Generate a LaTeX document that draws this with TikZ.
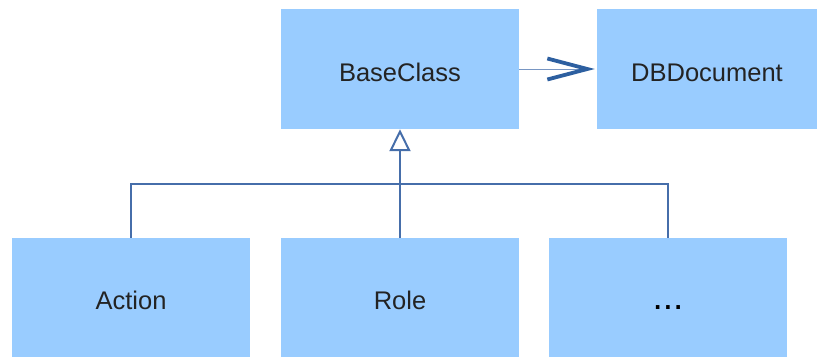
\documentclass[tikz,border=0pt]{standalone}
\usepackage{fontspec}
\setmainfont{Liberation Sans}
\usetikzlibrary{arrows.meta}
\definecolor{boxblue}{RGB}{153,204,255}
\definecolor{linkblue}{RGB}{70,110,170}
\definecolor{headblue}{RGB}{45,95,160}
\definecolor{shaftblue}{RGB}{120,150,195}
\definecolor{labelgray}{RGB}{35,35,35}
\tikzset{
  classbox/.style={fill=boxblue, draw=none, minimum width=238pt, minimum height=120pt,
    inner sep=0pt, text=labelgray, text height=24pt, text depth=0pt,
    font=\fontsize{25.5}{30}\selectfont},
  inherit/.style={draw=linkblue, line width=1.1pt},
  assoc/.style={draw=shaftblue, line width=1pt,
    -{Straight Barb[length=40pt, width=21pt, line width=3.8pt, color=headblue]}},
}
\begin{document}
\begin{tikzpicture}[x=1pt,y=-1pt]
  \useasboundingbox (0,0) rectangle (827,357);
  % classes
  \node[classbox] (base) at (400,69) {BaseClass};
  \node[classbox, minimum width=220pt] (db) at (707,69) {DBDocument};
  \node[classbox, minimum height=119pt] (action) at (131,297.5) {Action};
  \node[classbox, minimum height=119pt] (role) at (400,297.5) {Role};
  \node[classbox, minimum height=119pt, font=\fontsize{37}{42}\selectfont,
        text=black] (more) at (668,297.5) {...};
  % association
  \draw[assoc] (base.east) -- ([xshift=-2pt]db.west);
  % inheritance tree
  \coordinate (bus) at (400,184);
  \draw[inherit] (action.north) |- (bus) -| (more.north);
  \draw[inherit, -{Triangle[open, length=22pt, width=21pt, line width=2pt, fill=white]}]
    (role.north) -- (base.south);
\end{tikzpicture}
\end{document}
